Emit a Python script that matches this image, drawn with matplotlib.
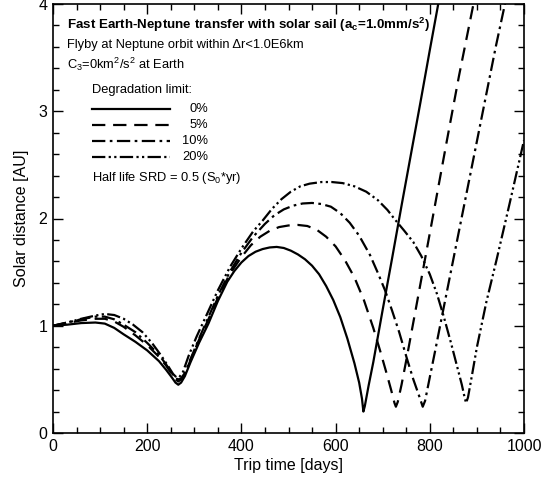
import matplotlib
matplotlib.use("Agg")
import matplotlib.pyplot as plt
from matplotlib.ticker import MultipleLocator

plt.rcParams['font.family'] = ['Liberation Sans', 'DejaVu Sans']
plt.rcParams['mathtext.fontset'] = 'custom'
plt.rcParams['mathtext.rm'] = 'Liberation Sans'
plt.rcParams['mathtext.it'] = 'Liberation Sans:italic'
plt.rcParams['mathtext.bf'] = 'Liberation Sans:bold'

# ---- data (trip time [days], solar distance [AU]) ----
t_0 = [0, 30, 60, 90, 110, 130, 150, 175, 200, 225, 240, 252, 260, 266, 272, 280, 292, 310, 330, 350,
       370, 385, 400, 415, 430, 445, 460, 475, 490, 505, 520, 535, 550, 565, 580, 595, 610, 625, 640, 650,
       656, 659, 662, 670, 680, 700, 720, 740, 760, 780, 800, 820]
r_0 = [1.00, 1.01, 1.025, 1.03, 1.02, 0.98, 0.92, 0.85, 0.77, 0.67, 0.59, 0.52, 0.47, 0.45, 0.47, 0.53, 0.66, 0.84, 1.02, 1.23,
       1.41, 1.51, 1.59, 1.65, 1.69, 1.715, 1.73, 1.735, 1.725, 1.70, 1.665, 1.62, 1.56, 1.48, 1.37, 1.24, 1.08, 0.88, 0.65, 0.47,
       0.32, 0.20, 0.25, 0.44, 0.66, 1.15, 1.63, 2.12, 2.60, 3.08, 3.57, 4.05]

t_5 = [0, 30, 60, 90, 110, 130, 150, 175, 200, 225, 240, 252, 260, 266, 272, 280, 292, 310, 330, 350,
       375, 400, 420, 440, 460, 480, 500, 520, 540, 560, 580, 600, 620, 640, 660, 680, 695, 708, 718, 725,
       728, 732, 740, 751, 770, 786, 810, 836, 862, 895]
r_5 = [1.00, 1.025, 1.05, 1.065, 1.065, 1.04, 0.99, 0.91, 0.82, 0.71, 0.63, 0.55, 0.50, 0.48, 0.50, 0.55, 0.68, 0.87, 1.06, 1.26,
       1.48, 1.64, 1.75, 1.83, 1.885, 1.92, 1.935, 1.94, 1.93, 1.895, 1.83, 1.74, 1.61, 1.45, 1.24, 0.98, 0.76, 0.56, 0.40, 0.28,
       0.245, 0.29, 0.45, 0.70, 1.15, 1.53, 2.10, 2.72, 3.33, 4.05]

t_10 = [0, 30, 60, 90, 110, 130, 150, 175, 200, 225, 240, 252, 260, 266, 272, 280, 292, 310, 330, 350,
        375, 400, 425, 450, 470, 490, 510, 530, 550, 570, 590, 610, 630, 650, 673, 690, 705, 720, 735, 751,
        765, 777, 785, 790, 800, 812, 825, 850, 880, 910, 940, 962]
r_10 = [1.00, 1.03, 1.06, 1.085, 1.085, 1.06, 1.01, 0.94, 0.84, 0.73, 0.64, 0.56, 0.51, 0.50, 0.51, 0.56, 0.69, 0.88, 1.08, 1.28,
        1.50, 1.68, 1.83, 1.95, 2.03, 2.085, 2.12, 2.14, 2.145, 2.135, 2.11, 2.05, 1.96, 1.84, 1.66, 1.49, 1.33, 1.14, 0.94, 0.70,
        0.50, 0.35, 0.245, 0.30, 0.52, 0.78, 1.07, 1.62, 2.28, 2.94, 3.60, 4.05]

t_20 = [0, 30, 60, 90, 110, 130, 150, 170, 190, 210, 230, 245, 255, 262, 268, 276, 288, 305, 326, 350,
        376, 400, 425, 445, 465, 485, 505, 525, 545, 570, 592, 615, 640, 665, 690, 710, 726, 745, 765, 782,
        800, 815, 830, 845, 858, 868, 874, 877, 881, 890, 900, 920, 942, 970, 1000]
r_20 = [1.00, 1.03, 1.065, 1.095, 1.11, 1.10, 1.065, 1.01, 0.94, 0.84, 0.72, 0.62, 0.55, 0.52, 0.52, 0.57, 0.72, 0.90, 1.10, 1.33,
        1.55, 1.72, 1.88, 1.98, 2.09, 2.18, 2.25, 2.30, 2.325, 2.34, 2.34, 2.33, 2.30, 2.25, 2.17, 2.08, 1.99, 1.89, 1.78, 1.65,
        1.48, 1.30, 1.08, 0.84, 0.62, 0.45, 0.33, 0.28, 0.33, 0.55, 0.80, 1.22, 1.62, 2.15, 2.73]

labels = ['0%', '5%', '10%', '20%']

fig = plt.figure(figsize=(5.5, 4.84), dpi=100)
ax = fig.add_axes([53/550, 1-433/484, (524-53)/550, (433-4)/484])

lw = 1.6
styles = ['-', (0, (6, 3.5)), (0, (6, 2, 1.2, 2)), (0, (6, 1.5, 1, 1.5, 1, 1.5))]
series = [(t_0, r_0), (t_5, r_5), (t_10, r_10), (t_20, r_20)]
for (t, r), ls in zip(series, styles):
    ax.plot(t, r, color='black', lw=lw, linestyle=ls, solid_joinstyle='round', dash_joinstyle='round')

ax.set_xlim(0, 1000)
ax.set_ylim(0, 4)
ax.xaxis.set_major_locator(MultipleLocator(200))
ax.xaxis.set_minor_locator(MultipleLocator(50))
ax.yaxis.set_major_locator(MultipleLocator(1))
ax.yaxis.set_minor_locator(MultipleLocator(0.2))
ax.tick_params(which='both', direction='in', top=True, right=True, width=1.0, labelsize=11.5)
ax.tick_params(which='major', length=7, pad=4)
ax.tick_params(which='minor', length=4)
for s in ax.spines.values():
    s.set_linewidth(1.2)
ax.set_xlabel('Trip time [days]', fontsize=11.5, labelpad=3)
ax.set_ylabel('Solar distance [AU]', fontsize=11.5, labelpad=7)

# ---- annotation block (figure pixel coordinates) ----
def px(x, y):
    return (x/550, 1-y/484)

fs = 9.3
fig.text(*px(67, 25), r'Fast Earth-Neptune transfer with solar sail ($\mathregular{a_c}$=1.0mm/s$\mathregular{^2}$)',
         fontsize=9.6, fontweight='bold', va='center', ha='left')
fig.text(*px(67, 45), 'Flyby at Neptune orbit within Δr<1.0E6km', fontsize=fs, va='center', ha='left')
fig.text(*px(67, 64), r'$\mathregular{C_3}$=0km$\mathregular{^2}$/s$\mathregular{^2}$ at Earth', fontsize=fs, va='center', ha='left')
fig.text(*px(92, 90), 'Degradation limit:', fontsize=fs, va='center', ha='left')
rows = [109, 125, 141, 157]
for y, ls, lab in zip(rows, styles, labels):
    x0, y0 = px(92, y)
    x1, _ = px(170, y)
    fig.add_artist(plt.Line2D([x0, x1], [y0, y0], transform=fig.transFigure, color='black', lw=lw, linestyle=ls))
    fig.text(*px(208, y), lab, fontsize=fs, va='center', ha='right')
fig.text(*px(92, 178), r'Half life SRD = 0.5 ($\mathregular{S_0}$*yr)', fontsize=fs, va='center', ha='left')

fig.savefig('out.png', dpi=100)
